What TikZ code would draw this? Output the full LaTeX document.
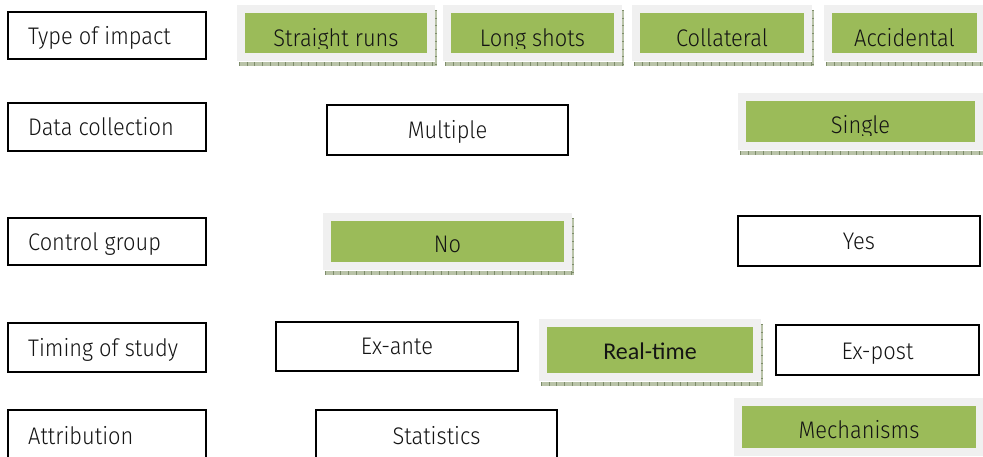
\documentclass[tikz,border=0pt]{standalone}
\usepackage{fontspec}
\setmainfont{Fira Sans}[UprightFont=* Light, FakeStretch=0.91]
\newfontfamily\calibri{Carlito}
\usetikzlibrary{fit}
\definecolor{gboxfill}{HTML}{9BBB59}
\definecolor{graybg}{HTML}{F0F0F0}
\definecolor{shadowc}{HTML}{B9C3A8}
\definecolor{shadowd}{HTML}{7D8C6A}
\definecolor{txt}{HTML}{141414}
\tikzset{
  wbox/.style={draw=black, line width=1.8pt, fill=white, inner sep=0pt},
  gfill/.style={fill=gboxfill, draw=none, inner sep=0pt},
  lbl/.style={anchor=base, text=txt, inner sep=0pt, font=\fontsize{24}{27}\selectfont},
  lbll/.style={lbl, anchor=base west},
}
\newcommand\gbox[8]{%
  \fill[graybg] (#2-8,#3-8) rectangle (#4+8,#5+8);
  \fill[shadowc] (#2-6,#5+9) rectangle (#4+10,#5+12.5);
  \fill[shadowc] (#4+8,#3-3) rectangle (#4+10,#5+12.5);
  \draw[shadowd, line width=3.5pt, dash pattern=on 0.7pt off 7pt] (#2-6,#5+10.75) -- (#4+10,#5+10.75);
  \draw[shadowd, line width=2pt, dash pattern=on 0.7pt off 7pt] (#4+9,#3-3) -- (#4+9,#5+12);
  \node[gfill, fit={(#2,#3) (#4,#5)}] (#1) {};
  \begin{scope}
    \clip (#2,#3) rectangle (#4,#6+2.5);
    \node[lbl, font=#8] (#1-t) at ({(#2+#4)/2},#6) {#7};
  \end{scope}
}
\newcommand\wbox[7]{%
  \node[wbox, fit={(#2,#3) (#4,#5)}] (#1) {};
  \node[lbl] (#1-t) at ({(#2+#4)/2},#6) {#7};
}
\begin{document}
\begin{tikzpicture}[x=1pt, y=-1pt]
\useasboundingbox (0,0) rectangle (983,456);
\clip (0,0) rectangle (983,456);
\fill[white] (0,0) rectangle (983,456);
% row labels
\node[wbox, fit={(8,12) (206,59)}] (r1) {};
\node[lbll] (r1-t) at (28,44) {Type of impact};
\node[wbox, fit={(8,103) (206,151)}] (r2) {};
\node[lbll] (r2-t) at (28,135) {Data collection};
\node[wbox, fit={(8,218) (206,265)}] (r3) {};
\node[lbll] (r3-t) at (28,250) {Control group};
\node[wbox, fit={(8,323) (206,372)}] (r4) {};
\node[lbll] (r4-t) at (28,356) {Timing of study};
\node[wbox, fit={(8,410) (206,470)}] (r5) {};
\node[lbll] (r5-t) at (28,444) {Attribution};
% row 1
\gbox{a1}{245}{13}{427}{53}{46}{Straight runs}{\fontsize{24}{27}\selectfont}
\gbox{a2}{451}{13}{614}{53}{46}{Long shots}{\fontsize{24}{27}\selectfont}
\gbox{a3}{640}{13}{804}{53}{46}{Collateral}{\fontsize{24}{27}\selectfont}
\gbox{a4}{832}{13}{977}{53}{46}{Accidental}{\fontsize{24}{27}\selectfont}
% row 2
\wbox{b1}{327}{105}{568}{155}{138}{Multiple}
\gbox{b2}{746}{101}{975}{142}{133}{Single}{\fontsize{24}{27}\selectfont}
% row 3
\gbox{c1}{331}{221}{564}{262}{252}{No}{\fontsize{24}{27}\selectfont}
\wbox{c2}{738}{216}{980}{266}{249}{Yes}
% row 4
\wbox{d1}{276}{322}{518}{371}{354}{Ex-ante}
\gbox{d2}{547}{327}{753}{373}{359}{Real-time}{\calibri\fontsize{24}{28}\selectfont}
\wbox{d3}{776}{325}{979}{375}{359}{Ex-post}
% row 5
\wbox{e1}{316}{410}{557}{470}{444}{Statistics}
\gbox{e2}{742}{406}{976}{448}{438}{Mechanisms}{\fontsize{24}{27}\selectfont}
\end{tikzpicture}
\end{document}
